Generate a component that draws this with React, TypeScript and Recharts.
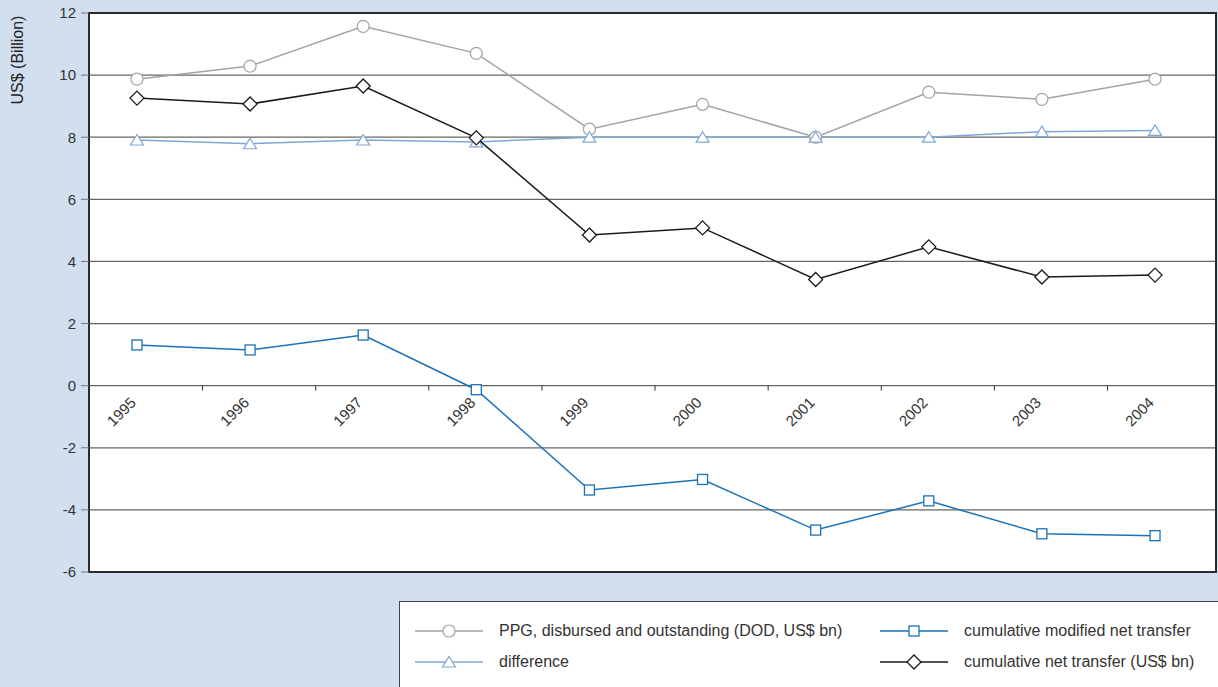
import { LineChart, Line, XAxis, YAxis, CartesianGrid, ReferenceArea } from 'recharts'

const years = [1995, 1996, 1997, 1998, 1999, 2000, 2001, 2002, 2003, 2004]
const ppgDod = [9.87, 10.29, 11.57, 10.7, 8.26, 9.06, 8.0, 9.45, 9.22, 9.87]
const difference = [7.91, 7.79, 7.91, 7.85, 8.0, 8.0, 8.0, 8.0, 8.18, 8.22]
const cumModified = [1.31, 1.15, 1.63, -0.13, -3.36, -3.02, -4.65, -3.71, -4.77, -4.83]
const cumNet = [9.26, 9.07, 9.65, 7.98, 4.85, 5.08, 3.42, 4.47, 3.5, 3.56]
const yTicks = [-6, -4, -2, 0, 2, 4, 6, 8, 10, 12]
const separators = [1995.58, 1996.58, 1997.58, 1998.58, 1999.58, 2000.58, 2001.58, 2002.58, 2003.58]
const xDomain = [1994.576, 2004.539]

const data = years.map((year, i) => ({
  year,
  ppg: ppgDod[i],
  diff: difference[i],
  modified: cumModified[i],
  net: cumNet[i],
}))

const FONT = '"Liberation Sans", Arial, sans-serif'
const Y_MIN = -6
const Y_MAX = 12
const PLOT_TOP = 13
const PLOT_H = 559
const zeroY = PLOT_TOP + (PLOT_H * Y_MAX) / (Y_MAX - Y_MIN)

const GRAY = '#a3a3a3'
const LIGHT_BLUE = '#7ea7d6'
const BLUE = '#1b72b8'
const BLACK = '#1a1a1a'

function Circle({ cx, cy, color }: any) {
  return <circle cx={cx} cy={cy} r={6} fill="#fff" stroke={color} strokeWidth={1.2} />
}
function Triangle({ cx, cy, color }: any) {
  return (
    <path
      d={`M${cx},${cy - 5.5} L${cx + 6.5},${cy + 5} L${cx - 6.5},${cy + 5} Z`}
      fill="#fff"
      stroke={color}
      strokeWidth={1.2}
    />
  )
}
function Square({ cx, cy, color }: any) {
  return <rect x={cx - 5} y={cy - 5} width={10} height={10} fill="#fff" stroke={color} strokeWidth={1.3} />
}
function Diamond({ cx, cy, color }: any) {
  return (
    <path
      d={`M${cx},${cy - 7} L${cx + 7},${cy} L${cx},${cy + 7} L${cx - 7},${cy} Z`}
      fill="#fff"
      stroke={color}
      strokeWidth={1.3}
    />
  )
}

const series = [
  { key: 'ppg', name: 'PPG, disbursed and outstanding (DOD, US$ bn)', color: GRAY, Marker: Circle },
  { key: 'diff', name: 'difference', color: LIGHT_BLUE, Marker: Triangle },
  { key: 'modified', name: 'cumulative modified net transfer', color: BLUE, Marker: Square },
  { key: 'net', name: 'cumulative net transfer (US$ bn)', color: BLACK, Marker: Diamond },
]

function YearTick(props: any) {
  const { x, payload } = props
  return (
    <text
      x={x}
      y={zeroY + 18}
      transform={`rotate(-45, ${x}, ${zeroY + 18})`}
      textAnchor="end"
      fontSize={15}
      fontFamily={FONT}
      fill="#333"
    >
      {payload.value}
    </text>
  )
}

function SepTick(props: any) {
  const { x } = props
  return <line x1={x} x2={x} y1={zeroY} y2={zeroY + 5} stroke="#333" strokeWidth={1} />
}

function LegendItem({ s }: any) {
  const M = s.Marker
  return (
    <div style={{ display: 'flex', alignItems: 'center', height: 31 }}>
      <svg width={68} height={20} style={{ marginRight: 16 }}>
        <line x1={0} x2={68} y1={10} y2={10} stroke={s.color} strokeWidth={1.5} />
        <M cx={34} cy={10} color={s.color} />
      </svg>
      <span>{s.name}</span>
    </div>
  )
}

export default function App() {
  return (
    <div
      style={{
        position: 'absolute',
        left: 0,
        top: 0,
        width: 1218,
        height: 687,
        background: '#d2dfef',
        overflow: 'hidden',
        fontFamily: FONT,
      }}
    >
      <div
        style={{
          position: 'absolute',
          left: 18,
          top: 60,
          transform: 'translate(-50%, -50%) rotate(-90deg)',
          fontSize: 16,
          color: '#222',
          whiteSpace: 'nowrap',
        }}
      >
        US$ (Billion)
      </div>
      <LineChart
        width={1218}
        height={600}
        data={data}
        margin={{ top: PLOT_TOP, right: 2, bottom: 26, left: 0 }}
        style={{ position: 'absolute', left: 0, top: 0 }}
      >
        <CartesianGrid vertical={false} stroke="#666" strokeWidth={1.2} fill="#fff" fillOpacity={1} />
        <XAxis
          dataKey="year"
          type="number"
          domain={xDomain}
          allowDataOverflow
          ticks={years}
          interval={0}
          height={1}
          axisLine={false}
          tickLine={false}
          tick={YearTick}
        />
        <XAxis
          xAxisId="sep"
          dataKey="year"
          type="number"
          domain={xDomain}
          allowDataOverflow
          ticks={separators}
          interval={0}
          height={1}
          axisLine={false}
          tickLine={false}
          tick={SepTick}
        />
        <YAxis
          domain={[Y_MIN, Y_MAX]}
          ticks={yTicks}
          interval={0}
          width={89}
          tickSize={8}
          tickMargin={5}
          axisLine={false}
          tickLine={{ stroke: '#777' }}
          tick={{ fontSize: 15, fill: '#333', fontFamily: FONT }}
        />
        <ReferenceArea
          x1={xDomain[0]}
          x2={xDomain[1]}
          y1={Y_MIN}
          y2={Y_MAX}
          fill="none"
          fillOpacity={0}
          stroke="#2a2a2a"
          strokeWidth={2}
          ifOverflow="visible"
        />
        {series.map((s) => (
          <Line
            key={s.key}
            dataKey={s.key}
            name={s.name}
            stroke={s.color}
            strokeWidth={1.5}
            isAnimationActive={false}
            dot={(p: any) => <s.Marker key={`${s.key}-${p.index}`} cx={p.cx} cy={p.cy} color={s.color} />}
            activeDot={false}
          />
        ))}
      </LineChart>
      <div
        style={{
          position: 'absolute',
          left: 399,
          top: 601,
          width: 840,
          height: 100,
          background: '#fff',
          border: '1.5px solid #444',
          boxSizing: 'border-box',
          padding: '13px 0 0 15px',
          display: 'grid',
          gridTemplateColumns: '465px 360px',
          gridAutoRows: 31,
          fontSize: 16,
          color: '#333',
        }}
      >
        <LegendItem s={series[0]} />
        <LegendItem s={series[2]} />
        <LegendItem s={series[1]} />
        <LegendItem s={series[3]} />
      </div>
    </div>
  )
}
